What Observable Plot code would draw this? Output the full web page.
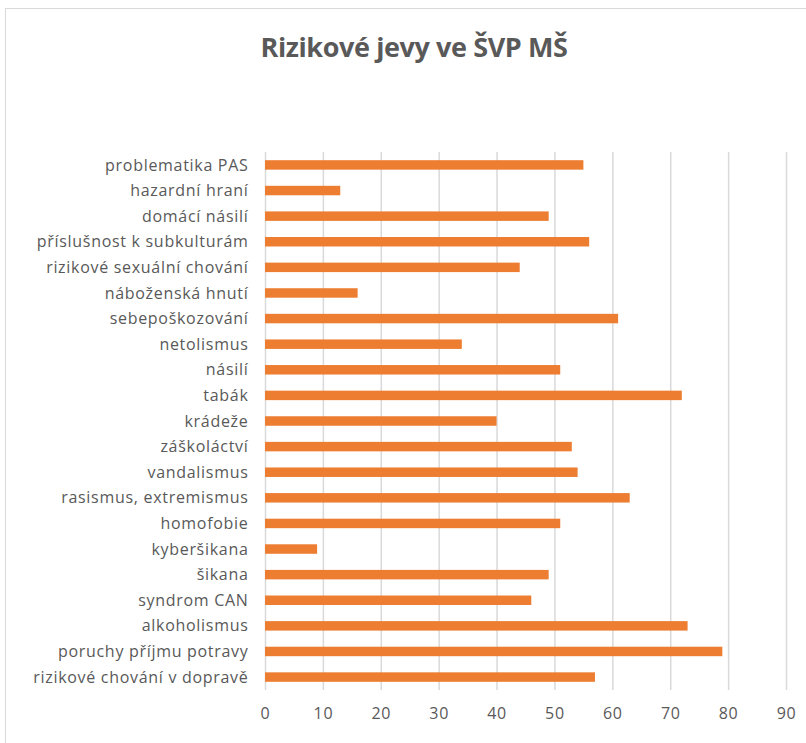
<!DOCTYPE html>
<html>
<head>
<meta charset="utf-8">
<script src="https://cdn.jsdelivr.net/npm/d3@7"></script>
<script src="https://cdn.jsdelivr.net/npm/@observablehq/plot@0.6"></script>
<style>
  html, body { margin: 0; padding: 0; background: #fff; width: 806px; height: 743px; overflow: hidden; }
  #frame { position: absolute; left: 5px; top: 8px; width: 830px; height: 780px; border: 1px solid #d9d9d9; box-sizing: border-box; }
  #title { position: absolute; left: 0; width: 828px; top: 28px; line-height: 38px; text-align: center; font-family: "Open Sans", sans-serif; font-weight: bold; font-size: 27px; color: #595959; letter-spacing: -0.4px; }
  #chart { position: absolute; left: 0; top: 0; }
</style>
</head>
<body>
<div id="frame"></div>
<div id="title">Rizikové jevy ve ŠVP MŠ</div>
<div id="chart"></div>
<script>
const categories = [
  "problematika PAS",
  "hazardní hraní",
  "domácí násilí",
  "příslušnost k subkulturám",
  "rizikové sexuální chování",
  "náboženská hnutí",
  "sebepoškozování",
  "netolismus",
  "násilí",
  "tabák",
  "krádeže",
  "záškoláctví",
  "vandalismus",
  "rasismus, extremismus",
  "homofobie",
  "kyberšikana",
  "šikana",
  "syndrom CAN",
  "alkoholismus",
  "poruchy příjmu potravy",
  "rizikové chování v dopravě"
];
const values = [55, 13, 49, 56, 44, 16, 61, 34, 51, 72, 40, 53, 54, 63, 51, 9, 49, 46, 73, 79, 57];
const xTicks = [0, 10, 20, 30, 40, 50, 60, 70, 80, 90];

const data = categories.map((c, i) => ({category: c, value: values[i]}));

const chart = Plot.plot({
  width: 806,
  height: 743,
  marginTop: 152,
  marginBottom: 53,
  marginLeft: 265,
  marginRight: 20,
  style: {fontFamily: "'Open Sans', sans-serif", fontSize: "16px", color: "#595959", background: "transparent", letterSpacing: "0.7px"},
  x: {domain: [0, 90], ticks: xTicks, label: null, tickSize: 0, tickPadding: 18},
  y: {domain: categories, label: null, tickSize: 0, tickPadding: 17, paddingInner: 0.63, paddingOuter: 0.32, round: false},
  marks: [
    Plot.ruleX(xTicks, {stroke: "#d9d9d9", strokeWidth: 1.5, strokeOpacity: 1}),
    Plot.barX(data, {x: "value", y: "category", fill: "#ED7D31"}),
    Plot.axisX({ticks: xTicks, tickSize: 0, tickPadding: 17, label: null, fontSize: 16}),
    Plot.axisY({tickSize: 0, tickPadding: 17, label: null, fontSize: 16})
  ]
});
document.getElementById("chart").appendChild(chart);
</script>
</body>
</html>
